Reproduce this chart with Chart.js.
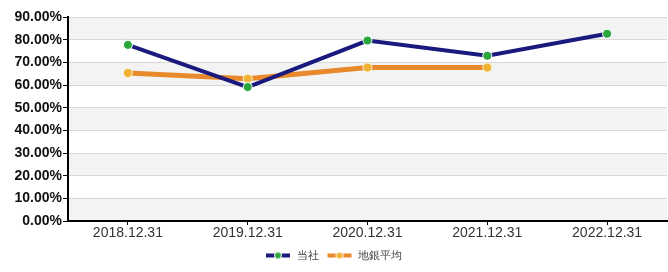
<!DOCTYPE html>
<html>
<head>
  <meta charset="utf-8">
  <script src="https://cdn.jsdelivr.net/npm/chart.js"></script>
  <style>
    html, body { margin: 0; padding: 0; background: #fff; }
    #wrap { width: 668px; height: 272px; }
  </style>
</head>
<body>
  <div id="wrap"><canvas id="myChart"></canvas></div>
  <script>
    // datos
    var fechas = ['2018.12.31', '2019.12.31', '2020.12.31', '2021.12.31', '2022.12.31'];
    var touSha = [77.7, 59.1, 79.6, 72.9, 82.6];
    var chiginHeikin = [65.3, 62.8, 67.7, 67.7, null];
    var nombres = ['当社', '地銀平均'];
    var yMin = 0, yMax = 90, yPaso = 10;

    // icono de la leyenda: linea con punto
    function iconoLeyenda(linea, punto) {
      var c = document.createElement('canvas');
      c.width = 26; c.height = 10;
      var g = c.getContext('2d');
      g.strokeStyle = linea; g.lineWidth = 4;
      g.beginPath(); g.moveTo(1, 5); g.lineTo(25, 5); g.stroke();
      g.fillStyle = punto; g.strokeStyle = '#fff'; g.lineWidth = 1;
      g.beginPath(); g.arc(13, 5, 3.5, 0, Math.PI * 2); g.fill(); g.stroke();
      return c;
    }

    // bandas grises alternas
    var bandas = {
      id: 'bandas',
      beforeDraw: function(chart) {
        var ctx = chart.ctx, a = chart.chartArea, y = chart.scales.y;
        ctx.save();
        for (var v = yMin; v < yMax; v += yPaso) {
          ctx.fillStyle = ((v / yPaso) % 2 === 0) ? '#f3f3f3' : '#ffffff';
          var t = y.getPixelForValue(v + yPaso), b = y.getPixelForValue(v);
          ctx.fillRect(a.left, t, a.right - a.left, b - t);
        }
        ctx.restore();
      }
    };

    var ctx = document.getElementById('myChart').getContext('2d');
    new Chart(ctx, {
      type: 'line',
      data: {
        labels: fechas,
        datasets: [{
          label: nombres[0],
          data: touSha,
          borderColor: '#1a1a7e',
          borderWidth: 4,
          pointBackgroundColor: '#2aa63c',
          pointBorderColor: '#ffffff',
          pointBorderWidth: 1,
          pointRadius: 4.5,
          tension: 0,
          fill: false
        }, {
          label: nombres[1],
          data: chiginHeikin,
          borderColor: '#e8892c',
          borderWidth: 5,
          pointBackgroundColor: '#f0b234',
          pointBorderColor: '#fff3d0',
          pointBorderWidth: 1,
          pointRadius: 4.5,
          tension: 0,
          fill: false
        }]
      },
      options: {
        responsive: true,
        maintainAspectRatio: false,
        animation: false,
        layout: { autoPadding: false, padding: { top: 17, right: 1, left: 0, bottom: 1 } },
        plugins: {
          tooltip: { enabled: false },
          legend: {
            position: 'bottom',
            labels: {
              usePointStyle: true,
              pointStyleWidth: 26,
              boxHeight: 10,
              color: '#444',
              font: { family: 'Liberation Sans', size: 11 },
              padding: 8,
              generateLabels: function(chart) {
                var iconos = [iconoLeyenda('#1a1a7e', '#2aa63c'), iconoLeyenda('#e8892c', '#f0b234')];
                return chart.data.datasets.map(function(d, i) {
                  return { text: d.label, pointStyle: iconos[i], datasetIndex: i, hidden: false,
                           fillStyle: d.borderColor, strokeStyle: d.borderColor, lineWidth: 0, fontColor: '#444' };
                });
              }
            }
          }
        },
        scales: {
          x: {
            offset: true,
            afterFit: function(s) { s.height = 21; },
            border: { color: '#000', width: 2 },
            grid: { drawOnChartArea: false, drawTicks: true, tickLength: 4, tickColor: '#000' },
            ticks: { color: '#333', padding: 0, maxRotation: 0, font: { family: 'Liberation Sans', size: 14 } }
          },
          y: {
            min: yMin, max: yMax,
            afterFit: function(s) { s.width = 68; },
            border: { color: '#000', width: 2 },
            grid: { color: '#d8d8d8', tickColor: '#000', tickLength: 5 },
            ticks: {
              stepSize: yPaso, color: '#111', padding: 1,
              font: { family: 'Liberation Sans', size: 14, weight: 'bold' },
              callback: function(v) { return v.toFixed(2) + '%'; }
            }
          }
        }
      },
      plugins: [bandas]
    });
  </script>
</body>
</html>
